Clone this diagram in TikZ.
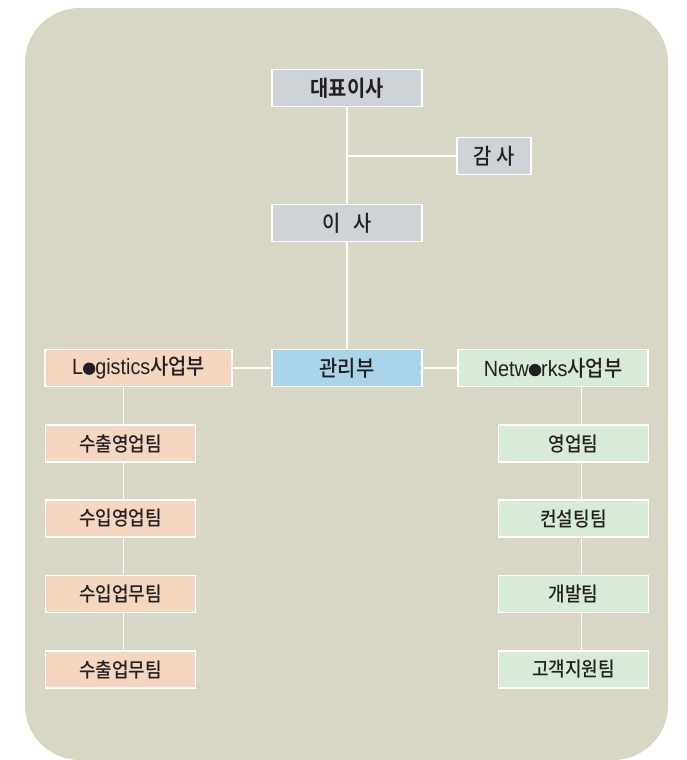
\documentclass[tikz,border=0pt]{standalone}
\usepackage{fontspec}
\setmainfont{Noto Sans CJK KR}[UprightFont=* Medium, BoldFont=* Bold, FakeStretch=0.9]
\newfontfamily\latinfont{Liberation Sans}[FakeStretch=0.9]
\usetikzlibrary{calc}
\definecolor{panel}{HTML}{D8D6C5}
\definecolor{boxgray}{HTML}{CDD3D6}
\definecolor{boxblue}{HTML}{AAD4E9}
\definecolor{boxorange}{HTML}{F5D6C1}
\definecolor{boxgreen}{HTML}{D8EBD8}
\definecolor{ink}{HTML}{231F20}
\newcommand{\dotO}{\tikz[baseline]\fill[ink] (0,0.28em) circle (0.28em);}

\begin{document}
\begin{tikzpicture}[x=0.75pt,y=-0.75pt,
  unit/.style={draw=white, line width=1.1pt, text=ink, font=\fontsize{16.5}{18}\selectfont,
    minimum width=112.5pt, minimum height=27.5pt, inner sep=0pt},
  team/.style={unit, font=\fontsize{15}{17}\selectfont},
  link/.style={draw=white, line width=1.1pt}]
\useasboundingbox (0,0) rectangle (686,760);
\fill[panel, rounded corners=41pt] (25,8) rectangle (668,760);
% top
\node[unit, fill=boxgray, font=\fontsize{16.5}{18}\selectfont\bfseries] (ceo) at (347,88) {대표이사};
\node[unit, fill=boxgray, minimum width=55.5pt] (audit) at (494,156) {감 사};
\node[unit, fill=boxgray] (dir) at (347,223) {이\hspace{0.6em}사};
% middle row
\node[unit, fill=boxblue] (admin) at (347,368) {관리부};
\node[unit, fill=boxorange, minimum width=140pt] (logi) at (138.5,368) {{\latinfont L\dotO gistics}사업부};
\node[unit, fill=boxgreen, minimum width=142.5pt] (netw) at (553,368) {{\latinfont Netw\dotO rks}사업부};
% logistics teams
\node[team, fill=boxorange] (l1) at (120.5,443.5) {수출영업팀};
\node[team, fill=boxorange] (l2) at (120.5,518.5) {수입영업팀};
\node[team, fill=boxorange] (l3) at (120.5,594) {수입업무팀};
\node[team, fill=boxorange] (l4) at (120.5,669.5) {수출업무팀};
% networks teams
\node[team, fill=boxgreen] (n1) at (573.5,443.5) {영업팀};
\node[team, fill=boxgreen] (n2) at (573.5,518.5) {컨설팅팀};
\node[team, fill=boxgreen] (n3) at (573.5,594) {개발팀};
\node[team, fill=boxgreen] (n4) at (573.5,669.5) {고객지원팀};
% connectors
\coordinate (fork) at (ceo.south |- audit.west);
\coordinate (ltop) at ($(l1.north)+(3,0)$);
\coordinate (ntop) at ($(n1.north)+(8,0)$);
\draw[link] (ceo) -- (dir);
\draw[link] (fork) -- (audit);
\draw[link] (dir) -- (admin);
\draw[link] (logi) -- (admin);
\draw[link] (admin) -- (netw);
\draw[link] (ltop) -- (ltop |- logi.south);
\draw[link] (ntop) -- (ntop |- netw.south);
\foreach \a/\b in {l1/l2,l2/l3,l3/l4}
  \draw[link] ($(\a.south)+(3,0)$) -- ($(\b.north)+(3,0)$);
\foreach \a/\b in {n1/n2,n2/n3,n3/n4}
  \draw[link] ($(\a.south)+(8,0)$) -- ($(\b.north)+(8,0)$);
\end{tikzpicture}
\end{document}
